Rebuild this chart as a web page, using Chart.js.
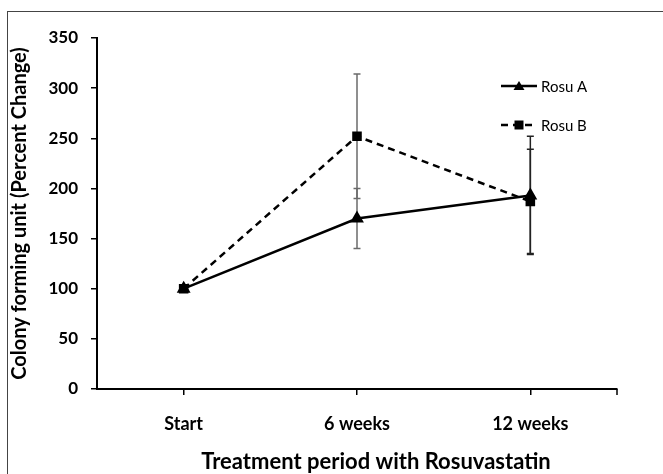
<!DOCTYPE html>
<html>
<head>
<meta charset="utf-8">
<script src="https://cdn.jsdelivr.net/npm/chart.js@4/dist/chart.umd.min.js"></script>
<style>
  html, body { margin: 0; padding: 0; background: #fff; }
  #wrap { width: 663px; height: 474px; position: relative; }
</style>
</head>
<body>
<div id="wrap"><canvas id="chart"></canvas></div>
<script>
// data
const periods = ['Start', '6 weeks', '12 weeks'];
const rosuA = [100, 170, 193];
const rosuAErr = [0, 30, 59];
const rosuB = [100, 252, 187];
const rosuBErr = [0, 62, 52];
const yTicks = [0, 50, 100, 150, 200, 250, 300, 350];
const xTitle = 'Treatment period with Rosuvastatin';

const FONT = 'Lato, "Open Sans", sans-serif';

// error bars, drawn under the markers
const errorBars = {
    id: 'errorBars',
    beforeDatasetsDraw(chart) {
        const ctx = chart.ctx;
        const x = chart.scales.x, y = chart.scales.y;
        chart.data.datasets.forEach(ds => {
            ds.data.forEach((v, i) => {
                const e = ds.errors[i];
                if (!e) return;
                const px = x.getPixelForValue(i);
                const top = y.getPixelForValue(v + e);
                const bot = y.getPixelForValue(v - e);
                ctx.save();
                ctx.strokeStyle = i === 1 ? '#6b6b6b' : '#222';
                ctx.lineWidth = 1.5;
                ctx.beginPath();
                ctx.moveTo(px, top); ctx.lineTo(px, bot);
                ctx.moveTo(px - 3.5, top); ctx.lineTo(px + 3.5, top);
                ctx.moveTo(px - 3.5, bot); ctx.lineTo(px + 3.5, bot);
                ctx.stroke();
                ctx.restore();
            });
        });
    }
};

// legend inside the plot, x title (sits a bit right of centre), outer frame
const extras = {
    id: 'extras',
    afterDraw(chart) {
        const ctx = chart.ctx;
        ctx.save();
        ctx.strokeStyle = '#444';
        ctx.lineWidth = 1;
        ctx.strokeRect(7.5, 11.5, 700, 500);

        // right-end tick of the x axis
        const xs = chart.scales.x;
        ctx.strokeStyle = '#000';
        ctx.lineWidth = 1.5;
        ctx.beginPath();
        ctx.moveTo(xs.right, xs.top); ctx.lineTo(xs.right, xs.top + 6);
        ctx.stroke();

        ctx.fillStyle = '#000';
        ctx.font = 'bold 22px ' + FONT;
        ctx.textAlign = 'center';
        ctx.textBaseline = 'middle';
        ctx.fillText(xTitle, (xs.left + xs.right) / 2 + 19, 462);
        ctx.textAlign = 'left';

        const rows = [86, 125];
        chart.data.datasets.forEach((ds, k) => {
            const yy = rows[k];
            ctx.strokeStyle = '#000';
            ctx.lineWidth = 2.5;
            ctx.setLineDash(ds.borderDash || []);
            ctx.beginPath();
            ctx.moveTo(501, yy); ctx.lineTo(537, yy);
            ctx.stroke();
            ctx.setLineDash([]);
            ctx.beginPath();
            if (ds.pointStyle === 'triangle') {
                ctx.moveTo(519, yy - 5); ctx.lineTo(524.5, yy + 4); ctx.lineTo(513.5, yy + 4);
                ctx.closePath();
            } else {
                ctx.rect(514.5, yy - 4.5, 9, 9);
            }
            ctx.fill();
            ctx.font = '15px ' + FONT;
            ctx.fillText(ds.label, 541, yy + 1);
        });
        ctx.restore();
    }
};

new Chart(document.getElementById('chart'), {
    type: 'line',
    data: {
        labels: periods,
        datasets: [
            {
                label: 'Rosu A',
                data: rosuA,
                errors: rosuAErr,
                borderColor: '#000',
                backgroundColor: '#000',
                borderWidth: 2.5,
                pointStyle: 'triangle',
                pointRadius: 5.5,
                tension: 0
            },
            {
                label: 'Rosu B',
                data: rosuB,
                errors: rosuBErr,
                borderColor: '#000',
                backgroundColor: '#000',
                borderWidth: 2.5,
                borderDash: [7, 5],
                pointStyle: 'rect',
                pointRadius: 5,
                tension: 0
            }
        ]
    },
    options: {
        responsive: true,
        maintainAspectRatio: false,
        animation: false,
        layout: { padding: { top: 38, right: 46, left: 0, bottom: 0 } },
        plugins: {
            legend: { display: false },
            tooltip: { enabled: false }
        },
        scales: {
            x: {
                offset: true,
                afterFit: s => { s.height = 85; },
                border: { color: '#000', width: 2 },
                grid: { offset: false, drawOnChartArea: false, color: '#000', tickLength: 6, lineWidth: 1.5 },
                ticks: { color: '#000', padding: 18, font: { family: FONT, size: 18, weight: 'bold' } }
            },
            y: {
                min: 0,
                max: 350,
                afterFit: s => { s.width = 97; },
                afterBuildTicks: s => { s.ticks = yTicks.map(v => ({ value: v })); },
                border: { color: '#000', width: 2 },
                grid: { drawOnChartArea: false, color: '#000', tickLength: 6, lineWidth: 1.5 },
                ticks: { color: '#000', padding: 13, font: { family: FONT, size: 17, weight: 'bold' } },
                title: {
                    display: true,
                    text: 'Colony forming unit (Percent Change)',
                    color: '#000',
                    padding: { top: 8, bottom: 0 },
                    font: { family: FONT, size: 20, weight: 'bold' }
                }
            }
        }
    },
    plugins: [errorBars, extras]
});
</script>
</body>
</html>
